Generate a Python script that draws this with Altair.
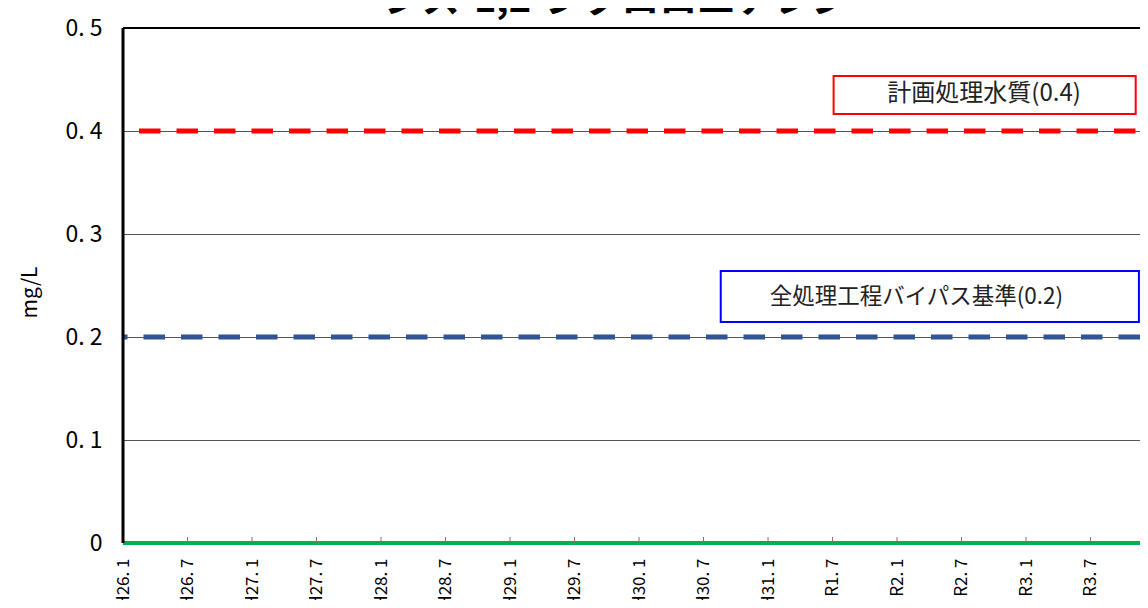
import altair as alt
import pandas as pd

# ---- data ----
title_text = "シス-1,2-ジクロロエチレン"
y_title = "mg/L"
tick_labels = ["H26.1", "H26.7", "H27.1", "H27.7", "H28.1", "H28.7", "H29.1", "H29.7",
               "H30.1", "H30.7", "H31.1", "R1.7", "R2.1", "R2.7", "R3.1", "R3.7"]
tick_months = [0, 6, 12, 18, 24, 30, 36, 42, 48, 54, 60, 66, 72, 78, 84, 90]
y_ticks = [0, 0.1, 0.2, 0.3, 0.4, 0.5]

# monthly measured values (all below detection -> plotted at 0)
months = list(range(96))
measured = [0, 0, 0, 0, 0, 0, 0, 0, 0, 0, 0, 0,
            0, 0, 0, 0, 0, 0, 0, 0, 0, 0, 0, 0,
            0, 0, 0, 0, 0, 0, 0, 0, 0, 0, 0, 0,
            0, 0, 0, 0, 0, 0, 0, 0, 0, 0, 0, 0,
            0, 0, 0, 0, 0, 0, 0, 0, 0, 0, 0, 0,
            0, 0, 0, 0, 0, 0, 0, 0, 0, 0, 0, 0,
            0, 0, 0, 0, 0, 0, 0, 0, 0, 0, 0, 0,
            0, 0, 0, 0, 0, 0, 0, 0, 0, 0, 0, 0]

plan_quality = 0.4
plan_label = "計画処理水質(0.4)"
bypass_standard = 0.2
bypass_label = "全処理工程バイパス基準(0.2)"

FONT = "Noto Sans CJK JP"
W, H = 1017, 515

df = pd.DataFrame({"month": months, "value": measured})
ticks_df = pd.DataFrame({"month": tick_months[1:]})
one = pd.DataFrame({"k": [0]})

xscale = alt.Scale(domain=[0, 94.6], nice=False, zero=False)
yscale = alt.Scale(domain=[0, 0.5], nice=False)

label_arr = "[" + ",".join("'" + s + "'" for s in tick_labels) + "]"
x_axis = alt.Axis(values=tick_months,
                  labelExpr="replace(" + label_arr + "[round(datum.value / 6)], '.', '. ')",
                  labelAngle=270, labelAlign="right", labelBaseline="middle",
                  labelFontSize=17, labelFont=FONT, labelColor="black",
                  labelPadding=15, ticks=False, domain=False, grid=False,
                  title=None, labelOverlap=False)
y_axis = alt.Axis(values=y_ticks,
                  labelExpr="datum.value == 0 ? '0' : replace(format(datum.value, '.1f'), '.', '. ')",
                  labelFontSize=23, labelFont=FONT, labelColor="black", labelPadding=21,
                  ticks=False, domain=False, grid=True, gridColor="#555", gridWidth=1,
                  title=y_title, titleFont=FONT, titleFontSize=21, titleFontWeight="normal",
                  titleColor="black", titleX=-93, titleY=264, titleAngle=270,
                  titleAlign="center", titleBaseline="middle", zindex=0)

measured_line = alt.Chart(df).mark_line(color="#00B050", strokeWidth=4, clip=False).encode(
    x=alt.X("month:Q", scale=xscale, axis=x_axis),
    y=alt.Y("value:Q", scale=yscale, axis=y_axis),
)

inner_ticks = alt.Chart(ticks_df).mark_rule(color="#777", strokeWidth=1).encode(
    x=alt.X("month:Q", scale=xscale),
    y=alt.value(H),
    y2=alt.value(H - 6),
)

plan_rule = alt.Chart(one).mark_rule(color="#FF0000", strokeWidth=5,
                                      strokeDash=[21.5, 16], strokeDashOffset=33).encode(
    y=alt.datum(plan_quality, scale=yscale))
bypass_rule = alt.Chart(one).mark_rule(color="#2F5597", strokeWidth=5,
                                        strokeDash=[21.5, 16]).encode(
    y=alt.datum(bypass_standard, scale=yscale))

top_border = alt.Chart(one).mark_rule(color="black", strokeWidth=2).encode(
    y=alt.datum(0.5, scale=yscale))
left_border = alt.Chart(one).mark_rule(color="black", strokeWidth=3).encode(
    x=alt.datum(0, scale=xscale))

plan_box = alt.Chart(one).mark_rect(fill="white", stroke="#FF0000", strokeWidth=2).encode(
    x=alt.datum(66.1), x2=alt.datum(94.2),
    y=alt.datum(0.4534), y2=alt.datum(0.4165))
plan_text = alt.Chart(one).mark_text(font=FONT, fontSize=24, color="#222").encode(
    x=alt.datum(80.1), y=alt.datum(0.4355), text=alt.value(plan_label))

bypass_box = alt.Chart(one).mark_rect(fill="white", stroke="#0000FF", strokeWidth=2).encode(
    x=alt.datum(55.6), x2=alt.datum(94.5),
    y=alt.datum(0.2641), y2=alt.datum(0.2146))
bypass_text = alt.Chart(one).mark_text(font=FONT, fontSize=22.5, color="#222").encode(
    x=alt.datum(73.8), y=alt.datum(0.2392), text=alt.value(bypass_label))

chart = alt.layer(
    measured_line, inner_ticks, plan_rule, bypass_rule,
    top_border, left_border, plan_box, plan_text, bypass_box, bypass_text
).properties(
    width=W, height=H,
    title=alt.TitleParams(text=title_text, font=FONT, fontSize=38, fontWeight="bold",
                          color="black", anchor="middle", frame="group", dx=-15, dy=40,
                          offset=7, baseline="alphabetic"),
    padding={"left": 115, "top": 20, "right": 0, "bottom": 57},
    autosize=alt.AutoSizeParams(type="none"),
).configure_view(stroke="transparent").configure(background="white")

chart.save("out.html", embed_options={"renderer": "svg", "actions": False})
